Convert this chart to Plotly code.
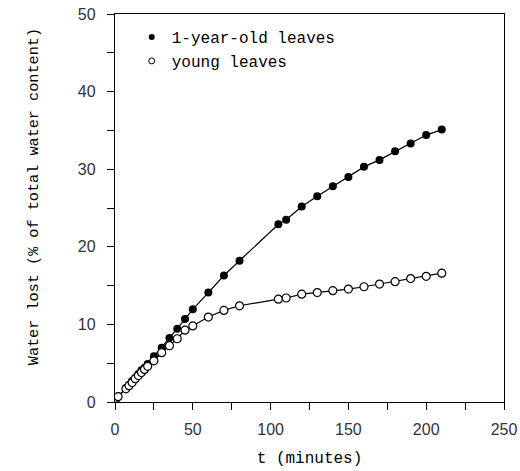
import plotly.graph_objects as go

t_old = [1, 2, 7, 9, 11, 13, 15, 17, 19, 21, 25, 30, 35, 40, 45, 50, 60, 70, 80,
         105, 110, 120, 130, 140, 150, 160, 170, 180, 190, 200, 210]
v_old = [0.5, 0.7, 1.8, 2.2, 2.7, 3.1, 3.6, 4.1, 4.4, 4.9, 5.9, 7.0, 8.25, 9.45, 10.7,
         11.95, 14.1, 16.3, 18.2, 22.9, 23.5, 25.2, 26.5, 27.8, 29.0, 30.3, 31.2, 32.3,
         33.3, 34.4, 35.1]

t_young = [1, 2, 7, 9, 11, 13, 15, 17, 19, 21, 25, 30, 35, 40, 45, 50, 60, 70, 80,
           105, 110, 120, 130, 140, 150, 160, 170, 180, 190, 200, 210]
v_young = [0.5, 0.7, 1.7, 2.1, 2.5, 3.0, 3.4, 3.8, 4.2, 4.6, 5.3, 6.35, 7.25, 8.15, 9.25,
           9.8, 10.95, 11.8, 12.4, 13.25, 13.4, 13.9, 14.1, 14.35, 14.55, 14.85, 15.2,
           15.5, 15.9, 16.2, 16.6]

names = ["1-year-old leaves", "young leaves"]
x_ticks = [0, 50, 100, 150, 200, 250]
y_ticks = [0, 10, 20, 30, 40, 50]

mono = "Liberation Mono"
sans = "Liberation Sans"

fig = go.Figure()
fig.add_trace(go.Scatter(
    x=t_old, y=v_old, mode="lines+markers", showlegend=False,
    line=dict(color="black", width=1.2),
    marker=dict(symbol="circle", size=8, color="black"),
))
fig.add_trace(go.Scatter(
    x=t_young, y=v_young, mode="lines+markers", showlegend=False,
    line=dict(color="black", width=1.2),
    marker=dict(symbol="circle", size=8, color="white", line=dict(color="black", width=1.2)),
))
# legend entries
fig.add_trace(go.Scatter(
    x=[None], y=[None], mode="markers", name=names[0],
    marker=dict(symbol="circle", size=6, color="black"),
))
fig.add_trace(go.Scatter(
    x=[None], y=[None], mode="markers", name=names[1],
    marker=dict(symbol="circle", size=6, color="white", line=dict(color="black", width=1)),
))

fig.add_annotation(
    text="Water lost (% of total water content)",
    xref="paper", yref="paper", x=-0.208, y=0.528,
    xanchor="center", yanchor="middle", textangle=-90, showarrow=False,
    font=dict(family=mono, size=15.2, color="black"),
)

fig.update_layout(
    width=520, height=471,
    autosize=False,
    margin=dict(l=115, r=16, t=14, b=69, autoexpand=False),
    paper_bgcolor="white", plot_bgcolor="white",
    showlegend=True,
    legend=dict(x=0.043, y=0.984, xanchor="left", yanchor="top",
                font=dict(family=mono, size=16, color="black"),
                bgcolor="rgba(0,0,0,0)", tracegroupgap=0),
    xaxis=dict(
        range=[0, 250], tickvals=x_ticks, ticks="outside", ticklen=7, tickwidth=1,
        tickcolor="black", showline=True, linecolor="black", linewidth=1.3, mirror=True,
        showgrid=False, zeroline=False, automargin=False,
        minor=dict(dtick=25, ticks="outside", ticklen=7, tickcolor="black"),
        tickfont=dict(family=sans, size=16, color="#333"),
        ticklabelstandoff=6,
        title=dict(text="t (minutes)", font=dict(family=mono, size=16, color="black"), standoff=14),
    ),
    yaxis=dict(
        range=[0, 50], tickvals=y_ticks, ticks="outside", ticklen=7, tickwidth=1,
        tickcolor="black", showline=True, linecolor="black", linewidth=1.3, mirror=True,
        showgrid=False, zeroline=False, automargin=False,
        minor=dict(dtick=5, ticks="outside", ticklen=7, tickcolor="black"),
        tickfont=dict(family=sans, size=16, color="#333"),
        ticklabelstandoff=8,
    ),
)

fig.write_html("out.html")
